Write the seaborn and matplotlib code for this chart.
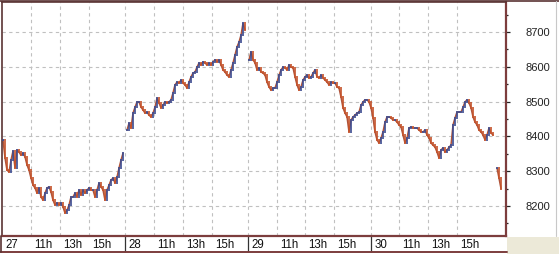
import numpy as np
import pandas as pd
import matplotlib
matplotlib.use("Agg")
import matplotlib.pyplot as plt
import seaborn as sns
from matplotlib.transforms import blended_transform_factory
from matplotlib.patches import Rectangle
from matplotlib.lines import Line2D
from matplotlib.ticker import MultipleLocator

# ---- data (closing prices, one bar per slot) ----
day27 = [8390, 8338, 8303, 8298, 8332, 8358, 8309, 8361, 8355, 8346,
         8352, 8341, 8318, 8303, 8280, 8260, 8252, 8237, 8252, 8226,
         8217, 8237, 8252, 8255, 8240, 8217, 8203, 8209, 8203, 8209,
         8197, 8180, 8188, 8203, 8226, 8226, 8237, 8226, 8246, 8232,
         8246, 8237, 8246, 8252, 8246, 8246, 8226, 8246, 8266, 8255,
         8246, 8217, 8246, 8260, 8275, 8280, 8266, 8283, 8309, 8332,
         8352]
day28 = [8418, 8438, 8424, 8467, 8484, 8499, 8499, 8484, 8476, 8467,
         8470, 8461, 8456, 8467, 8484, 8510, 8496, 8482, 8490, 8499,
         8496, 8499, 8505, 8525, 8548, 8556, 8553, 8562, 8553, 8548,
         8539, 8556, 8571, 8582, 8585, 8599, 8611, 8605, 8614, 8611,
         8605, 8611, 8605, 8614, 8620, 8614, 8620, 8605, 8591, 8585,
         8576, 8571, 8591, 8611, 8634, 8657, 8671, 8691, 8725, 8706]
day29 = [8620, 8643, 8620, 8611, 8591, 8597, 8585, 8582, 8576, 8556,
         8542, 8533, 8539, 8539, 8556, 8576, 8591, 8599, 8597, 8591,
         8605, 8599, 8597, 8571, 8548, 8533, 8542, 8562, 8571, 8576,
         8568, 8571, 8582, 8591, 8571, 8568, 8576, 8568, 8562, 8556,
         8548, 8556, 8553, 8553, 8542, 8539, 8513, 8482, 8467, 8456,
         8413, 8447, 8456, 8461, 8467, 8470, 8490, 8499, 8505, 8505,
         8499]
day30_a = [8482, 8453, 8413, 8390, 8381, 8395, 8413, 8441, 8456, 8456,
           8453, 8447, 8447, 8441, 8433, 8427, 8404, 8381, 8395, 8424,
           8427, 8424, 8424, 8424, 8418, 8413, 8413, 8418, 8404, 8395,
           8381, 8375, 8369, 8355, 8338, 8361, 8367, 8355, 8361, 8369,
           8375, 8433, 8453, 8470, 8470, 8470, 8484, 8499, 8505, 8496,
           8482, 8456, 8441, 8433, 8418, 8413, 8404, 8390, 8404, 8424,
           8410, 8404]
day30_b = [8309, 8280, 8250]

closes = (day27 + [np.nan] + day28 + [np.nan] + day29 + day30_a
          + [np.nan] + day30_b)

tick_labels = ["27", "11h", "13h", "15h", "28", "11h", "13h", "15h",
               "29", "11h", "13h", "15h", "30", "11h", "13h", "15h"]
tick_bars = [-0.5, 14, 28.5, 43, 61, 75.5, 90, 104.5,
             122.5, 137, 151, 165.5, 184, 198, 212.5, 227]
day_bars = [61, 122.5, 184]
price_ticks = [8200, 8300, 8400, 8500, 8600, 8700]

# ---- frame ----
df = pd.DataFrame({"bar": np.arange(len(closes)), "close": closes})
df["seg"] = df["close"].isna().cumsum()
df["open"] = df["close"].shift(1)
df["open"] = df["open"].fillna(df["close"])
df = df.dropna(subset=["close"])
df["up"] = df["close"] >= df["open"]

UP = "#3b4a8f"
DOWN = "#c4522a"
SPINE = "#7c3d3d"

sns.set_style("white")
plt.rcParams["font.family"] = ["Liberation Sans", "DejaVu Sans"]

W, H = 559, 254
fig = plt.figure(figsize=(W / 100, H / 100), dpi=100)
fig.patch.set_facecolor("white")
fig.add_artist(Rectangle((507 / W, 0), (W - 507) / W, 17 / H,
                         transform=fig.transFigure, facecolor="#ece9d8",
                         edgecolor="none", zorder=0))

ax = fig.add_axes([2 / W, 18 / H, 504 / W, 234 / H])
ax.set_facecolor("white")

# grid
for p in price_ticks:
    ax.axhline(p, color="#c0c0c0", lw=0.8, ls=(0, (3, 3)), zorder=0)
for b in tick_bars[1:]:
    ax.axvline(b, color="#c0c0c0", lw=0.8, ls=(0, (3, 3)), zorder=0)

# connecting line (broken at session gaps), then bars coloured by direction
sns.lineplot(data=df, x="bar", y="close", units="seg", estimator=None,
             ax=ax, color="#b0543a", lw=1.1, zorder=2, legend=False)
pad = 2.5
lo = np.minimum(df["open"], df["close"]) - pad
hi = np.maximum(df["open"], df["close"]) + pad
ax.vlines(df["bar"][df["up"]], lo[df["up"]], hi[df["up"]], color=UP,
          lw=1.2, zorder=3)
ax.vlines(df["bar"][~df["up"]], lo[~df["up"]], hi[~df["up"]], color=DOWN,
          lw=1.2, zorder=3)

ax.set_xlim(-0.5, 251.5)
ax.set_ylim(8114, 8786)
ax.set_xlabel("")
ax.set_ylabel("")

# right price axis
ax.yaxis.tick_right()
ax.set_yticks(price_ticks)
ax.yaxis.set_minor_locator(MultipleLocator(50))
ax.tick_params(axis="y", which="major", length=3, width=0.9, pad=11,
               labelsize=8, colors="#222222", right=True, left=False)
ax.tick_params(axis="y", which="minor", length=1.6, width=0.9,
               colors="#222222", right=True, left=False)

# bottom time axis
ax.set_xticks(tick_bars)
ax.set_xticklabels([""] * len(tick_bars))
ax.tick_params(axis="x", which="major", length=2.5, width=0.8,
               colors="#333333", direction="out")
tr = blended_transform_factory(ax.transData, ax.transAxes)
for b, lab in zip(tick_bars, tick_labels):
    ax.annotate(lab, xy=(b, 0), xycoords=tr, xytext=(2.3, -2.2),
                textcoords="offset points", ha="left", va="top",
                fontsize=8.3, color="#111111")
ax.vlines(day_bars, -16 / 234, 0, transform=tr, color="#333333", lw=0.9,
          clip_on=False)

for side in ["left", "top"]:
    ax.spines[side].set_color("#5a3434")
    ax.spines[side].set_linewidth(1.2)
for side in ["right", "bottom"]:
    ax.spines[side].set_color(SPINE)
    ax.spines[side].set_linewidth(1.6)

# outer frame of the label row and right panel
fig.add_artist(Line2D([0, 507 / W], [2 / H, 2 / H], transform=fig.transFigure,
                      color=SPINE, lw=1.4))
fig.add_artist(Line2D([1 / W, 1 / W], [2 / H, 18 / H], transform=fig.transFigure,
                      color="#5a3434", lw=1.2))
fig.add_artist(Line2D([0, 1], [253 / H, 253 / H], transform=fig.transFigure,
                      color="#5a3434", lw=1.2))
fig.add_artist(Line2D([556 / W, 556 / W], [18 / H, 253 / H],
                      transform=fig.transFigure, color="#c8c8c8", lw=0.8))

fig.savefig("out.png", dpi=100, facecolor=fig.get_facecolor())
